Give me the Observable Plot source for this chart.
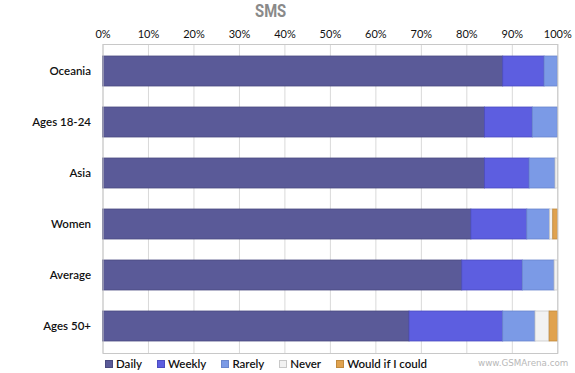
<!DOCTYPE html>
<html>
<head>
<meta charset="utf-8">
<script src="https://cdn.jsdelivr.net/npm/d3@7"></script>
<script src="https://cdn.jsdelivr.net/npm/@observablehq/plot@0.6"></script>
<style>
  html, body { margin: 0; padding: 0; background: #ffffff; }
  #wrap { position: relative; width: 575px; height: 373px; overflow: hidden; font-family: Lato, sans-serif; }
  #title { position: absolute; left: 255px; top: 0px; font-family: Roboto, sans-serif; font-weight: bold; font-size: 19px; color: #8a8a8a; transform: scaleX(0.78); transform-origin: left top; line-height: 22px; }
  #chart { position: absolute; left: 0; top: 22px; }
  #legend { position: absolute; left: 105px; top: 356px; display: flex; gap: 15px; font-size: 11.5px; font-weight: 600; color: #111; line-height: 16px; }
  #legend .item { display: flex; align-items: center; gap: 3px; }
  #legend .sw { width: 8px; height: 8px; box-sizing: border-box; }
  #credit { position: absolute; left: 478px; top: 357px; font-family: "DejaVu Sans", sans-serif; font-size: 9.5px; color: #b8b8b8; transform: scaleX(0.92); transform-origin: left top; }
</style>
</head>
<body>
<div id="wrap">
  <div id="title">SMS</div>
  <div id="chart"></div>
  <div id="legend"></div>
  <div id="credit">www.GSMArena.com</div>
</div>
<script>
const categories = ["Oceania", "Ages 18-24", "Asia", "Women", "Average", "Ages 50+"];
const seriesNames = ["Daily", "Weekly", "Rarely", "Never", "Would if I could"];
const daily         = [88.0, 84.0, 84.0, 81.0, 79.0, 67.4];
const weekly        = [ 9.1, 10.5,  9.8, 12.3, 13.3, 20.6];
const rarely        = [ 2.9,  5.5,  5.7,  5.0,  7.0,  7.1];
const never         = [ 0.0,  0.0,  0.5,  0.7,  0.7,  3.1];
const wouldIfICould = [ 0.0,  0.0,  0.0,  1.0,  0.0,  1.8];
const tickValues = [0, 10, 20, 30, 40, 50, 60, 70, 80, 90, 100];

const colors = ["#5a5a98", "#5d5ee0", "#7b9ae6", "#f2f2f2", "#e0a24e"];
const strokes = ["#4a4a80", "#4c4dc0", "#6a86cc", "#c8c8c8", "#c08a3e"];

const seriesValues = [daily, weekly, rarely, never, wouldIfICould];
const rows = [];
categories.forEach((c, i) => {
  seriesNames.forEach((s, j) => {
    rows.push({category: c, series: s, value: seriesValues[j][i]});
  });
});

const plot = Plot.plot({
  width: 575,
  height: 333,
  marginTop: 22,
  marginBottom: 2,
  marginLeft: 102.5,
  marginRight: 17.7,
  style: {fontFamily: "Lato, sans-serif", fontSize: "11px", color: "#111", background: "transparent"},
  x: {domain: [0, 100], label: null},
  y: {domain: categories, paddingInner: 0.42, paddingOuter: 0.21, label: null},
  color: {domain: seriesNames, range: colors},
  marks: [
    Plot.gridX(tickValues, {stroke: "#d9d9d9", strokeOpacity: 1}),
    Plot.barX(rows, Plot.stackX({
      x: "value", y: "category", fill: "series",
      stroke: d => strokes[seriesNames.indexOf(d.series)],
      strokeWidth: 0.8, inset: 0
    })),
    Plot.frame({stroke: "#c8c8c8"}),
    Plot.axisX({anchor: "top", ticks: tickValues, tickFormat: d => d + "%", tickSize: 0, tickPadding: 7, fontSize: 11, label: null}),
    Plot.axisY({tickSize: 0, tickPadding: 12, fontSize: 11.5, fontWeight: 600, label: null})
  ]
});
document.getElementById("chart").appendChild(plot);

const legend = document.getElementById("legend");
seriesNames.forEach((s, j) => {
  const item = document.createElement("div");
  item.className = "item";
  const sw = document.createElement("div");
  sw.className = "sw";
  sw.style.background = colors[j];
  sw.style.border = "1px solid " + strokes[j];
  const t = document.createElement("span");
  t.textContent = s;
  item.appendChild(sw);
  item.appendChild(t);
  legend.appendChild(item);
});
</script>
</body>
</html>
